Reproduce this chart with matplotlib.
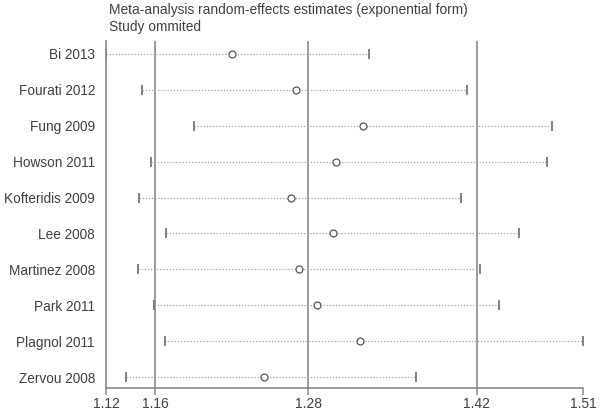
import matplotlib.pyplot as plt
import numpy as np

plt.rcParams['font.family'] = ['Liberation Sans', 'DejaVu Sans']

studies = ['Bi 2013', 'Fourati 2012', 'Fung 2009', 'Howson 2011', 'Kofteridis 2009',
           'Lee 2008', 'Martinez 2008', 'Park 2011', 'Plagnol 2011', 'Zervou 2008']
estimate = [1.2224, 1.2744, 1.3291, 1.3072, 1.2706, 1.3045, 1.2771, 1.2917, 1.3269, 1.2486]
lower = [1.1202, 1.1494, 1.1920, 1.1565, 1.1470, 1.1689, 1.1464, 1.1594, 1.1679, 1.1364]
upper = [1.3340, 1.4137, 1.4828, 1.4781, 1.4088, 1.4557, 1.4237, 1.4397, 1.5077, 1.3722]

# overall estimate and its CI
overall_lo, overall_est, overall_hi = 1.1600, 1.2846, 1.4215

fig = plt.figure(figsize=(6, 4.11), dpi=100)
ax = fig.add_axes([106/600, 23/411, 477/600, 347/411])

line_col = '#8a8a8a'
y = np.arange(len(studies))

for ref in [overall_lo, overall_est, overall_hi]:
    ax.axvline(ref, color=line_col, lw=1.2, zorder=1)

ax.hlines(y, lower, upper, colors='#a0a0a0', linestyles=(0, (1, 1.5)), lw=0.9, zorder=2)
ax.plot(lower, y, ls='none', marker='|', ms=7.5, mew=1.4, color='#808080', zorder=3)
ax.plot(upper, y, ls='none', marker='|', ms=7.5, mew=1.4, color='#808080', zorder=3)
ax.plot(estimate, y, ls='none', marker='o', ms=5, mfc='white', mec='#555555', mew=0.9, zorder=4)

ax.set_xlim(min(lower), max(upper))
ax.set_ylim(len(studies) - 1 + 0.306, -0.362)

xt = [min(lower), overall_lo, overall_est, overall_hi, max(upper)]
ax.set_xticks(xt)
ax.set_xticklabels(['%.2f' % v for v in xt], fontsize=10, color='#404040')
ax.set_yticks(y)
ax.set_yticklabels(studies, fontsize=9.8, color='#404040')
ax.tick_params(axis='y', length=0, pad=8)
ax.tick_params(axis='x', length=5, width=1.1, color=line_col, pad=1.5)

for s in ['top', 'right']:
    ax.spines[s].set_visible(False)
for s in ['left', 'bottom']:
    ax.spines[s].set_color(line_col)
    ax.spines[s].set_linewidth(1.2)

fig.text(109/600, 1 - 10/411, 'Meta-analysis random-effects estimates (exponential form)',
         fontsize=9.9, color='#404040', va='center', ha='left')
fig.text(109/600, 1 - 27/411, 'Study ommited', fontsize=9.9, color='#404040', va='center', ha='left')

fig.savefig('out.png', dpi=100)
